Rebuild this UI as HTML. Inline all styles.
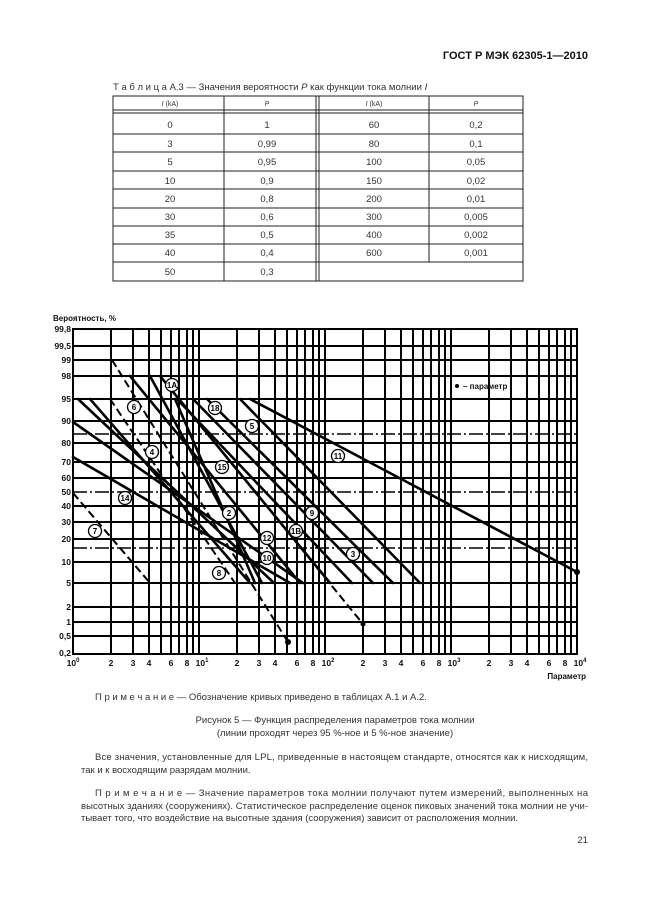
<!DOCTYPE html>
<html><head><meta charset="utf-8"><style>
html,body{margin:0;padding:0;background:#fff}
svg{display:block}
text{font-family:"Liberation Sans",sans-serif}
</style></head><body>
<svg width="646" height="913" viewBox="0 0 646 913" xmlns="http://www.w3.org/2000/svg">
<rect width="646" height="913" fill="#fff"/>
<text x="588" y="59" text-anchor="end" font-size="11" font-weight="bold" fill="#111">ГОСТ Р МЭК 62305-1—2010</text>
<text x="113" y="90" font-size="9.5" fill="#333">Т а б л и ц а  А.3 — Значения вероятности <tspan font-style="italic">P</tspan>  как функции тока молнии  <tspan font-style="italic">I</tspan></text>
<g stroke="#222" fill="none" stroke-width="1">
<rect x="113" y="96" width="410" height="185"/>
<line x1="113" y1="110" x2="523" y2="110"/><line x1="113" y1="113" x2="523" y2="113"/>
<line x1="224" y1="96" x2="224" y2="281"/>
<line x1="316" y1="96" x2="316" y2="281"/><line x1="319" y1="96" x2="319" y2="281"/>
<line x1="429" y1="96" x2="429" y2="262"/>
<line x1="113" y1="134" x2="523" y2="134"/><line x1="113" y1="152" x2="523" y2="152"/>
<line x1="113" y1="171" x2="523" y2="171"/><line x1="113" y1="189" x2="523" y2="189"/>
<line x1="113" y1="208" x2="523" y2="208"/><line x1="113" y1="226" x2="523" y2="226"/>
<line x1="113" y1="244" x2="523" y2="244"/><line x1="113" y1="262" x2="523" y2="262"/>
</g>
<g font-size="9.5" fill="#333" text-anchor="middle">
<text x="170" y="106" font-size="7"><tspan font-style="italic">I</tspan> (kA)</text><text x="267" y="106" font-size="7" font-style="italic">P</text>
<text x="374" y="106" font-size="7"><tspan font-style="italic">I</tspan> (kA)</text><text x="476" y="106" font-size="7" font-style="italic">P</text>
<text x="170" y="128">0</text><text x="267" y="128">1</text><text x="374" y="128">60</text><text x="476" y="128">0,2</text>
<text x="170" y="147">3</text><text x="267" y="147">0,99</text><text x="374" y="147">80</text><text x="476" y="147">0,1</text>
<text x="170" y="165">5</text><text x="267" y="165">0,95</text><text x="374" y="165">100</text><text x="476" y="165">0,05</text>
<text x="170" y="184">10</text><text x="267" y="184">0,9</text><text x="374" y="184">150</text><text x="476" y="184">0,02</text>
<text x="170" y="202">20</text><text x="267" y="202">0,8</text><text x="374" y="202">200</text><text x="476" y="202">0,01</text>
<text x="170" y="220">30</text><text x="267" y="220">0,6</text><text x="374" y="220">300</text><text x="476" y="220">0,005</text>
<text x="170" y="238">35</text><text x="267" y="238">0,5</text><text x="374" y="238">400</text><text x="476" y="238">0,002</text>
<text x="170" y="256">40</text><text x="267" y="256">0,4</text><text x="374" y="256">600</text><text x="476" y="256">0,001</text>
<text x="170" y="275">50</text><text x="267" y="275">0,3</text>
</g>

<!-- chart -->
<text x="53" y="321" font-size="8" font-weight="bold" fill="#111">Вероятность, %</text>
<g stroke="#000" stroke-width="2" fill="none">
<rect x="73" y="329" width="504" height="325"/>
<line x1="73" y1="346" x2="577" y2="346"/><line x1="73" y1="360" x2="577" y2="360"/>
<line x1="73" y1="376" x2="577" y2="376"/><line x1="73" y1="399" x2="577" y2="399"/>
<line x1="73" y1="421" x2="577" y2="421"/><line x1="73" y1="443" x2="577" y2="443"/>
<line x1="73" y1="462" x2="577" y2="462"/><line x1="73" y1="478" x2="577" y2="478"/>
<line x1="73" y1="506" x2="577" y2="506"/>
<line x1="73" y1="522" x2="577" y2="522"/><line x1="73" y1="539" x2="577" y2="539"/>
<line x1="73" y1="562" x2="577" y2="562"/><line x1="73" y1="583" x2="577" y2="583"/>
<line x1="73" y1="607" x2="577" y2="607"/><line x1="73" y1="622" x2="577" y2="622"/>
<line x1="73" y1="636" x2="577" y2="636"/>
</g>
<g stroke="#000" stroke-width="1.5" stroke-dasharray="14 3 2 3" fill="none">
<line x1="73" y1="434" x2="577" y2="434"/><line x1="73" y1="492" x2="577" y2="492"/><line x1="73" y1="548" x2="577" y2="548"/>
</g>
<g stroke="#000" stroke-width="2">
<line x1="111" y1="329" x2="111" y2="654"/><line x1="133" y1="329" x2="133" y2="654"/><line x1="149" y1="329" x2="149" y2="654"/><line x1="161" y1="329" x2="161" y2="654"/><line x1="171" y1="329" x2="171" y2="654"/><line x1="179" y1="329" x2="179" y2="654"/><line x1="187" y1="329" x2="187" y2="654"/><line x1="193" y1="329" x2="193" y2="654"/><line x1="199" y1="329" x2="199" y2="654"/>
<line x1="237" y1="329" x2="237" y2="654"/><line x1="259" y1="329" x2="259" y2="654"/><line x1="275" y1="329" x2="275" y2="654"/><line x1="287" y1="329" x2="287" y2="654"/><line x1="297" y1="329" x2="297" y2="654"/><line x1="305" y1="329" x2="305" y2="654"/><line x1="313" y1="329" x2="313" y2="654"/><line x1="319" y1="329" x2="319" y2="654"/><line x1="325" y1="329" x2="325" y2="654"/>
<line x1="363" y1="329" x2="363" y2="654"/><line x1="385" y1="329" x2="385" y2="654"/><line x1="401" y1="329" x2="401" y2="654"/><line x1="413" y1="329" x2="413" y2="654"/><line x1="423" y1="329" x2="423" y2="654"/><line x1="431" y1="329" x2="431" y2="654"/><line x1="439" y1="329" x2="439" y2="654"/><line x1="445" y1="329" x2="445" y2="654"/><line x1="451" y1="329" x2="451" y2="654"/>
<line x1="489" y1="329" x2="489" y2="654"/><line x1="511" y1="329" x2="511" y2="654"/><line x1="527" y1="329" x2="527" y2="654"/><line x1="539" y1="329" x2="539" y2="654"/><line x1="549" y1="329" x2="549" y2="654"/><line x1="557" y1="329" x2="557" y2="654"/><line x1="565" y1="329" x2="565" y2="654"/><line x1="571" y1="329" x2="571" y2="654"/>
</g>
<!-- curves -->
<g stroke="#000" stroke-width="2.6" fill="none" stroke-linecap="round">
<line x1="250" y1="399" x2="577" y2="572"/>
<line x1="240" y1="399" x2="420" y2="583"/>
<line x1="177" y1="399" x2="352" y2="583"/>
<line x1="193" y1="399" x2="373" y2="583"/>
<line x1="207" y1="399" x2="393" y2="583"/>
<line x1="160" y1="376" x2="330" y2="583"/>
<line x1="130" y1="376" x2="300" y2="583"/>
<line x1="78" y1="399" x2="274" y2="583"/>
<line x1="90" y1="399" x2="250" y2="583"/>
<line x1="73" y1="422" x2="303" y2="583"/>
<line x1="73" y1="457" x2="290" y2="583"/>
<line x1="150" y1="376" x2="262" y2="583"/>
<line x1="175" y1="399" x2="255" y2="583"/>
</g>
<g stroke="#000" stroke-width="2" fill="none" stroke-dasharray="8 4">
<line x1="112" y1="360" x2="288" y2="642"/>
<line x1="73" y1="493" x2="150" y2="583"/>
<line x1="110" y1="399" x2="235" y2="583"/>
<line x1="180" y1="400" x2="363" y2="624"/>
</g>
<g fill="#000"><circle cx="288" cy="642" r="3"/><circle cx="363" cy="624" r="2.5"/><circle cx="577" cy="572" r="3"/><circle cx="457" cy="386" r="2"/></g>
<text x="463" y="389" font-size="8" font-weight="bold" fill="#111">– параметр</text>
<g font-size="8" font-weight="bold" text-anchor="middle" fill="#000">
<g stroke="#000" stroke-width="1.3" fill="#fff">
<circle cx="172" cy="385" r="6.5"/><circle cx="134" cy="407" r="6.5"/><circle cx="215" cy="408" r="6.5"/><circle cx="252" cy="426" r="6.5"/><circle cx="152" cy="452" r="6.5"/><circle cx="338" cy="456" r="6.5"/><circle cx="222" cy="467" r="6.5"/><circle cx="125" cy="498" r="6.5"/><circle cx="95" cy="531" r="6.5"/><circle cx="229" cy="513" r="6.5"/><circle cx="312" cy="513" r="6.5"/><circle cx="296" cy="531" r="6.5"/><circle cx="267" cy="538" r="6.5"/><circle cx="353" cy="554" r="6.5"/><circle cx="267" cy="558" r="6.5"/><circle cx="219" cy="573" r="6.5"/>
</g>
<text x="172" y="388">1A</text><text x="134" y="410">6</text><text x="215" y="411">18</text><text x="252" y="429">5</text><text x="152" y="455">4</text><text x="338" y="459">11</text><text x="222" y="470">15</text><text x="125" y="501">14</text><text x="95" y="534">7</text><text x="229" y="516">2</text><text x="312" y="516">9</text><text x="296" y="534">1B</text><text x="267" y="541">12</text><text x="353" y="557">3</text><text x="267" y="561">10</text><text x="219" y="576">8</text>
</g>
<g font-size="8.5" font-weight="bold" text-anchor="end" fill="#111">
<text x="71" y="332">99,8</text><text x="71" y="349">99,5</text><text x="71" y="363">99</text><text x="71" y="379">98</text><text x="71" y="402">95</text><text x="71" y="424">90</text><text x="71" y="446">80</text><text x="71" y="465">70</text><text x="71" y="481">60</text><text x="71" y="495">50</text><text x="71" y="509">40</text><text x="71" y="525">30</text><text x="71" y="542">20</text><text x="71" y="565">10</text><text x="71" y="586">5</text><text x="71" y="610">2</text><text x="71" y="625">1</text><text x="71" y="639">0,5</text><text x="71" y="656">0,2</text>
</g>
<g font-size="8.5" font-weight="bold" text-anchor="middle" fill="#111">
<text x="73" y="666">10<tspan font-size="6" dy="-4">0</tspan></text>
<text x="111" y="666">2</text><text x="133" y="666">3</text><text x="149" y="666">4</text><text x="171" y="666">6</text><text x="187" y="666">8</text>
<text x="202" y="666">10<tspan font-size="6" dy="-4">1</tspan></text>
<text x="237" y="666">2</text><text x="259" y="666">3</text><text x="275" y="666">4</text><text x="297" y="666">6</text><text x="313" y="666">8</text>
<text x="328" y="666">10<tspan font-size="6" dy="-4">2</tspan></text>
<text x="363" y="666">2</text><text x="385" y="666">3</text><text x="401" y="666">4</text><text x="423" y="666">6</text><text x="439" y="666">8</text>
<text x="454" y="666">10<tspan font-size="6" dy="-4">3</tspan></text>
<text x="489" y="666">2</text><text x="511" y="666">3</text><text x="527" y="666">4</text><text x="549" y="666">6</text><text x="565" y="666">8</text>
<text x="580" y="666">10<tspan font-size="6" dy="-4">4</tspan></text>
</g>
<text x="586" y="679" text-anchor="end" font-size="8" font-weight="bold" fill="#111">Параметр</text>

<g font-size="9.5" fill="#333">
<text x="95" y="700">П р и м е ч а н и е — Обозначение кривых приведено в таблицах А.1 и А.2.</text>
<text x="335" y="723" text-anchor="middle">Рисунок 5 — Функция распределения параметров тока молнии</text>
<text x="335" y="736" text-anchor="middle">(линии проходят через 95 %-ное и 5 %-ное значение)</text>
<text x="95" y="760" textLength="493" lengthAdjust="spacing">Все значения, установленные для LPL, приведенные в настоящем стандарте, относятся как к нисходящим,</text>
<text x="81" y="773">так и к восходящим разрядам молнии.</text>
<text x="95" y="796" textLength="493" lengthAdjust="spacing">П р и м е ч а н и е — Значение параметров тока молнии получают путем измерений, выполненных на</text>
<text x="81" y="809" textLength="507" lengthAdjust="spacing">высотных зданиях (сооружениях). Статистическое распределение оценок пиковых значений тока молнии не учи-</text>
<text x="81" y="821">тывает того, что воздействие на высотные здания (сооружения) зависит от расположения молнии.</text>
<text x="588" y="843" text-anchor="end">21</text>
</g>
</svg>
</body></html>
